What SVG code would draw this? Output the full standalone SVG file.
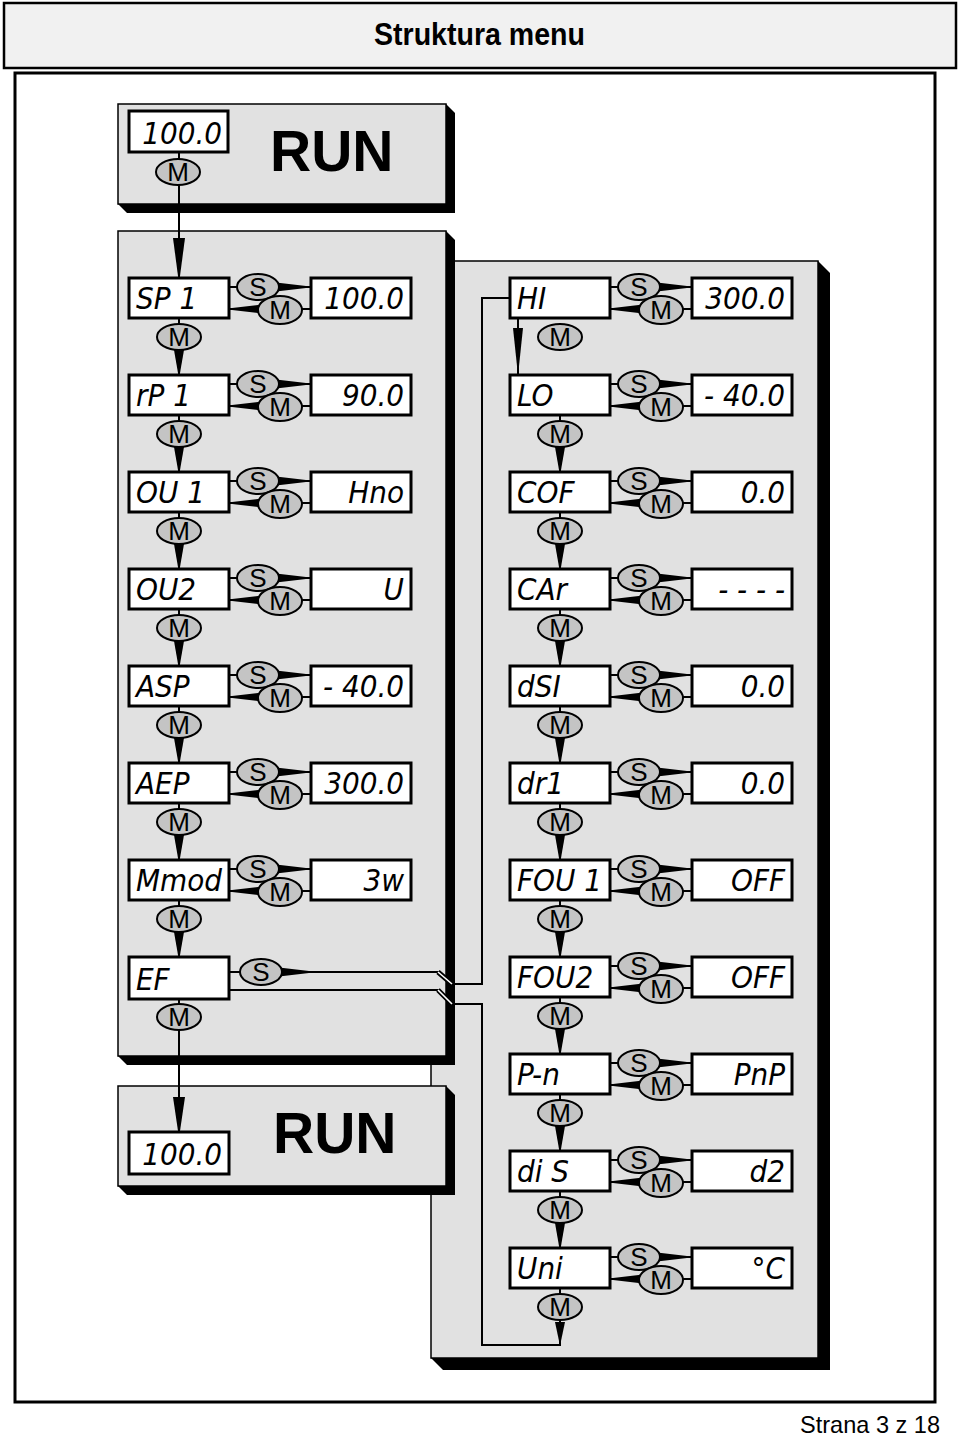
<svg xmlns="http://www.w3.org/2000/svg" xmlns:xlink="http://www.w3.org/1999/xlink" width="960" height="1436" viewBox="0 0 960 1436">
<style>
.panel{fill:#e1e1e1;stroke:#000;stroke-width:1.5}
.shadow{fill:#000}
.disp{fill:#fff;stroke:#000;stroke-width:3}
.btn{fill:#c4c4c4;stroke:#000;stroke-width:2}
.bt{font-family:"Liberation Sans",Arial,sans-serif;font-size:26px;fill:#000;text-anchor:middle}
.lcd{font-family:"DejaVu Sans Condensed","Liberation Sans Narrow","Liberation Sans",sans-serif;font-style:italic;font-size:31px;fill:#000}
.val{text-anchor:end}
.ln{stroke:#000;stroke-width:2;fill:none}
.wedge{fill:#000}
.run{font-family:"Liberation Sans",Arial,sans-serif;font-weight:bold;font-size:57px;fill:#000}
</style>
<defs>
<g id="rowtpl">
<rect class="disp" x="129" y="0" width="100" height="40"/>
<rect class="disp" x="311" y="0" width="100" height="40"/>
<line class="ln" x1="229" y1="9" x2="240" y2="9"/>
<line class="ln" x1="276" y1="9" x2="311" y2="9"/>
<polygon class="wedge" points="276,4.5 306,8 306,10 276,13.5"/>
<ellipse class="btn" cx="258" cy="9" rx="21" ry="13"/>
<text class="bt" x="258" y="18">S</text>
<line class="ln" x1="229" y1="31" x2="262" y2="31"/>
<line class="ln" x1="300" y1="31" x2="311" y2="31"/>
<polygon class="wedge" points="262,26.5 232,30 232,32 262,35.5"/>
<ellipse class="btn" cx="280" cy="32" rx="22" ry="14"/>
<text class="bt" x="280" y="41">M</text>
</g>
<g id="mbtn">
<ellipse class="btn" cx="179" cy="59" rx="22" ry="13"/>
<text class="bt" x="179" y="68">M</text>
</g>
<g id="vconn">
<line class="ln" x1="179" y1="40" x2="179" y2="47"/>
<line class="ln" x1="179" y1="71" x2="179" y2="97"/>
<polygon class="wedge" points="174,72 184,72 180,95 178,95"/>
<use xlink:href="#mbtn"/>
</g>
</defs>

<rect x="0" y="0" width="960" height="1436" fill="#fff"/>

<g id="header">
<rect x="4" y="3" width="952" height="65" fill="#f1f1f1" stroke="#000" stroke-width="2.5"/>
<text x="374" y="45" font-family="Liberation Sans,Arial,sans-serif" font-weight="bold" font-size="31" textLength="211" lengthAdjust="spacingAndGlyphs">Struktura menu</text>
</g>
<rect id="frame" x="15" y="73" width="920" height="1329" fill="#fff" stroke="#000" stroke-width="3"/>

<g id="panel-right">
<polygon class="shadow" points="818,261 830,273 830,1370 443,1370 431,1358"/>
<rect class="panel" x="431" y="261" width="387" height="1097"/>
</g>
<g id="panel-left">
<polygon class="shadow" points="446,231 455,240 455,1065 127,1065 118,1056"/>
<rect class="panel" x="118" y="231" width="328" height="825"/>
</g>

<g id="run-top">
<polygon class="shadow" points="446,104 455,113 455,213 127,213 118,204"/>
<rect class="panel" x="118" y="104" width="328" height="100"/>
<rect class="disp" x="129" y="111" width="99" height="41"/>
<text class="lcd val" x="222" y="144">100.0</text>
<text class="run" x="270" y="171">RUN</text>
<ellipse class="btn" cx="178" cy="172" rx="22" ry="13"/>
<text class="bt" x="178" y="181">M</text>
</g>

<g id="connectors">
<line class="ln" x1="179" y1="152" x2="179" y2="159"/>
<line class="ln" x1="179" y1="185" x2="179" y2="278"/>
<polygon class="wedge" points="173,238 185,238 180,276 178,276"/>
<use xlink:href="#vconn" transform="translate(0,278)"/>
<use xlink:href="#vconn" transform="translate(0,375)"/>
<use xlink:href="#vconn" transform="translate(0,472)"/>
<use xlink:href="#vconn" transform="translate(0,569)"/>
<use xlink:href="#vconn" transform="translate(0,666)"/>
<use xlink:href="#vconn" transform="translate(0,763)"/>
<use xlink:href="#vconn" transform="translate(0,860)"/>
<line class="ln" x1="179" y1="998" x2="179" y2="1006"/>
<use xlink:href="#mbtn" transform="translate(0,958)"/>
<line class="ln" x1="179" y1="1030" x2="179" y2="1132"/>
<use xlink:href="#mbtn" transform="translate(381,278)"/>
<line class="ln" x1="518" y1="318" x2="518" y2="376"/>
<polygon class="wedge" points="513,328 523,328 519,366 517,366"/>
<use xlink:href="#vconn" transform="translate(381,375)"/>
<use xlink:href="#vconn" transform="translate(381,472)"/>
<use xlink:href="#vconn" transform="translate(381,569)"/>
<use xlink:href="#vconn" transform="translate(381,666)"/>
<use xlink:href="#vconn" transform="translate(381,763)"/>
<use xlink:href="#vconn" transform="translate(381,860)"/>
<use xlink:href="#vconn" transform="translate(381,957)"/>
<use xlink:href="#vconn" transform="translate(381,1054)"/>
<use xlink:href="#vconn" transform="translate(381,1151)"/>
<line class="ln" x1="560" y1="1288" x2="560" y2="1295"/>
<use xlink:href="#mbtn" transform="translate(381,1248)"/>
<path class="ln" d="M229 972 H241"/>
<path class="ln" d="M280 972 H438 L452 984 H482 V298 H510"/>
<polygon class="wedge" points="279,967.5 309,971 309,973 279,976.5"/>
<path class="ln" d="M229 990 H438 L452 1004 H482 V1345 H560 V1320"/>
<polygon class="wedge" points="555,1322 565,1322 561,1341 559,1341"/>
<path d="M438 972 L452 984 M438 990 L452 1004" stroke="#000" stroke-width="5" fill="none"/>
<path d="M438 972 L452 984 M438 990 L452 1004" stroke="#fff" stroke-width="1.6" fill="none"/>
</g>

<g id="n-sp1" transform="translate(0,278)"><use xlink:href="#rowtpl"/><text class="lcd" x="136" y="31">SP 1</text><text class="lcd val" x="404" y="31">100.0</text></g>
<g id="n-rp1" transform="translate(0,375)"><use xlink:href="#rowtpl"/><text class="lcd" x="136" y="31">rP 1</text><text class="lcd val" x="404" y="31">90.0</text></g>
<g id="n-ou1" transform="translate(0,472)"><use xlink:href="#rowtpl"/><text class="lcd" x="136" y="31">OU 1</text><text class="lcd val" x="404" y="31">Hno</text></g>
<g id="n-ou2" transform="translate(0,569)"><use xlink:href="#rowtpl"/><text class="lcd" x="136" y="31">OU2</text><text class="lcd val" x="404" y="31">U</text></g>
<g id="n-asp" transform="translate(0,666)"><use xlink:href="#rowtpl"/><text class="lcd" x="136" y="31">ASP</text><text class="lcd val" x="404" y="31">- 40.0</text></g>
<g id="n-aep" transform="translate(0,763)"><use xlink:href="#rowtpl"/><text class="lcd" x="136" y="31">AEP</text><text class="lcd val" x="404" y="31">300.0</text></g>
<g id="n-mmod" transform="translate(0,860)"><use xlink:href="#rowtpl"/><text class="lcd" x="136" y="31">Mmod</text><text class="lcd val" x="404" y="31">3w</text></g>
<g id="n-ef">
<rect class="disp" x="129" y="957" width="100" height="42"/>
<ellipse class="btn" cx="261" cy="972" rx="21" ry="13"/>
<text class="bt" x="261" y="981">S</text>
<text class="lcd" x="136" y="990">EF</text>
</g>

<g id="n-hi" transform="translate(381,278)"><use xlink:href="#rowtpl"/><text class="lcd" x="136" y="31">HI</text><text class="lcd val" x="404" y="31">300.0</text></g>
<g id="n-lo" transform="translate(381,375)"><use xlink:href="#rowtpl"/><text class="lcd" x="136" y="31">LO</text><text class="lcd val" x="404" y="31">- 40.0</text></g>
<g id="n-cof" transform="translate(381,472)"><use xlink:href="#rowtpl"/><text class="lcd" x="136" y="31">COF</text><text class="lcd val" x="404" y="31">0.0</text></g>
<g id="n-car" transform="translate(381,569)"><use xlink:href="#rowtpl"/><text class="lcd" x="136" y="31">CAr</text><text class="lcd val" x="404" y="31">- - - -</text></g>
<g id="n-dsi" transform="translate(381,666)"><use xlink:href="#rowtpl"/><text class="lcd" x="136" y="31">dSI</text><text class="lcd val" x="404" y="31">0.0</text></g>
<g id="n-dr1" transform="translate(381,763)"><use xlink:href="#rowtpl"/><text class="lcd" x="136" y="31">dr1</text><text class="lcd val" x="404" y="31">0.0</text></g>
<g id="n-fou1" transform="translate(381,860)"><use xlink:href="#rowtpl"/><text class="lcd" x="136" y="31">FOU 1</text><text class="lcd val" x="404" y="31">OFF</text></g>
<g id="n-fou2" transform="translate(381,957)"><use xlink:href="#rowtpl"/><text class="lcd" x="136" y="31">FOU2</text><text class="lcd val" x="404" y="31">OFF</text></g>
<g id="n-pn" transform="translate(381,1054)"><use xlink:href="#rowtpl"/><text class="lcd" x="136" y="31">P-n</text><text class="lcd val" x="404" y="31">PnP</text></g>
<g id="n-dis" transform="translate(381,1151)"><use xlink:href="#rowtpl"/><text class="lcd" x="136" y="31">di S</text><text class="lcd val" x="404" y="31">d2</text></g>
<g id="n-uni" transform="translate(381,1248)"><use xlink:href="#rowtpl"/><text class="lcd" x="136" y="31">Uni</text><text class="lcd val" x="404" y="31">°C</text></g>

<g id="run-bottom">
<polygon class="shadow" points="446,1086 455,1095 455,1195 127,1195 118,1186"/>
<rect class="panel" x="118" y="1086" width="328" height="100"/>
<rect class="disp" x="129" y="1132" width="100" height="42"/>
<text class="lcd val" x="222" y="1165">100.0</text>
<text class="run" x="273" y="1153">RUN</text>
</g>
<g id="connector-run">
<line class="ln" x1="179" y1="1086" x2="179" y2="1132"/>
<polygon class="wedge" points="173,1097 185,1097 180,1131 178,1131"/>
</g>

<text x="800" y="1433" font-family="Liberation Sans,Arial,sans-serif" font-size="24" textLength="140" lengthAdjust="spacingAndGlyphs">Strana 3 z 18</text>
</svg>
